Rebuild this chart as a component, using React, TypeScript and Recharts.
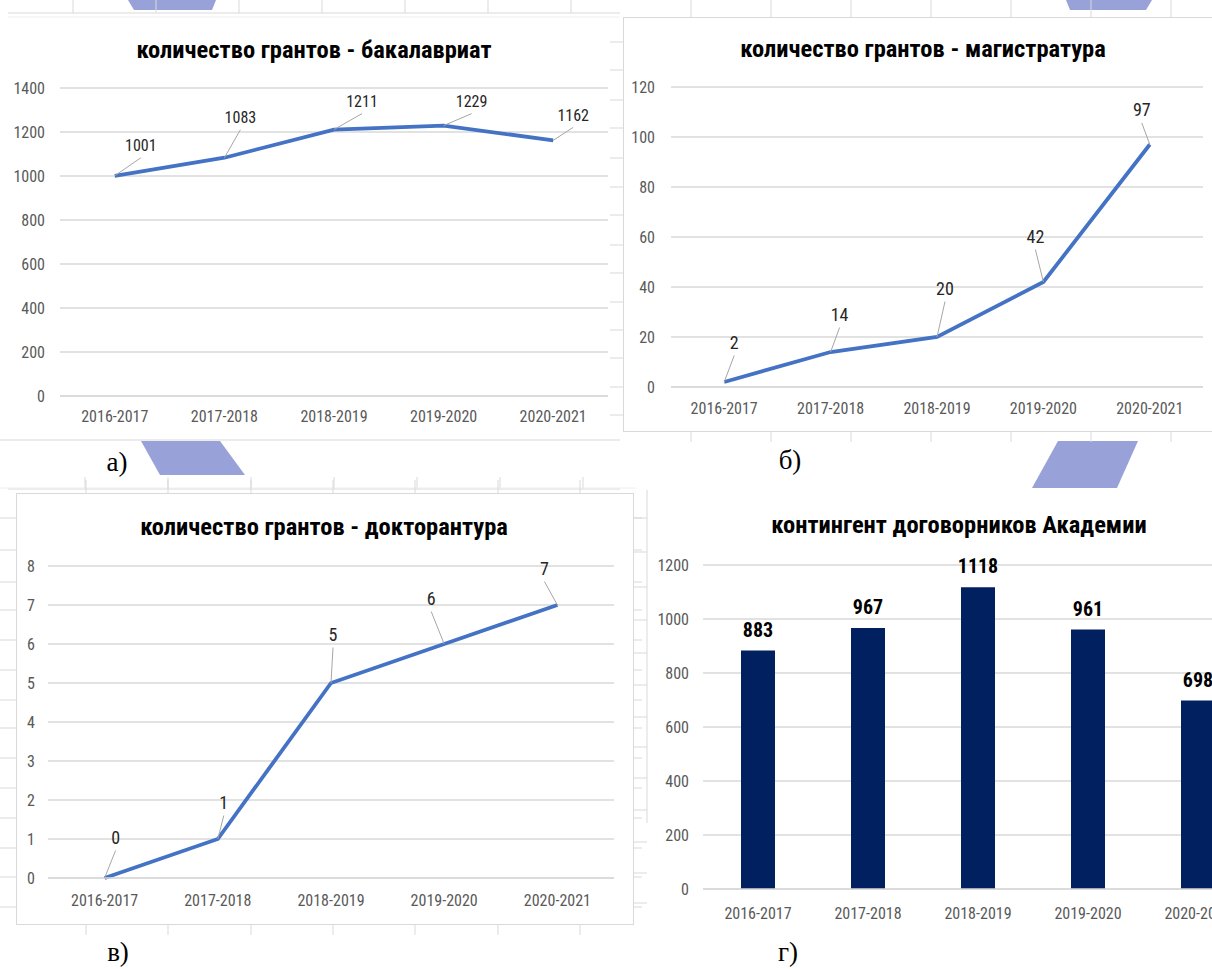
import { LineChart, Line, BarChart, Bar, XAxis, YAxis, CartesianGrid, LabelList } from "recharts"

// academic years on every x axis
const years = ["2016-2017", "2017-2018", "2018-2019", "2019-2020", "2020-2021"]

// а) bachelor grants
const bachelorGrants = [1001, 1083, 1211, 1229, 1162]
const bachelorTicks = [0, 200, 400, 600, 800, 1000, 1200, 1400]

// б) master grants
const masterGrants = [2, 14, 20, 42, 97]
const masterTicks = [0, 20, 40, 60, 80, 100, 120]

// в) doctoral grants
const doctoralGrants = [0, 1, 5, 6, 7]
const doctoralTicks = [0, 1, 2, 3, 4, 5, 6, 7, 8]

// г) contract students
const contractStudents = [883, 967, 1118, 961, 698]
const contractTicks = [0, 200, 400, 600, 800, 1000, 1200]

// where Excel dragged each data label (dx, dy from the point)
const bachelorLabelShift = [[26, -30], [16, -40], [28, -28], [28, -24], [20, -25]]
const masterLabelShift = [[10, -40], [9, -38], [8, -49], [-8, -46], [-8, -35]]
const doctoralLabelShift = [[11, -41], [6, -37], [2, -49], [-13, -46], [-13, -37]]

const FONT = '"Liberation Sans Narrow", "Roboto Condensed", Roboto, sans-serif'
const GRID = "#d9d9d9"
const TICK = { fill: "#595959", fontSize: 16, fontFamily: FONT }

function leaderLabel(shifts: number[][], fontSize: number) {
  return (props: any) => {
    const { x, y, value, index } = props
    const [dx, dy] = shifts[index] || [0, -30]
    const lx = x + dx
    const ly = y + dy
    return (
      <g>
        <line x1={x} y1={y} x2={lx} y2={ly + fontSize * 0.75} stroke="#a6a6a6" strokeWidth={1} />
        <text x={lx} y={ly} textAnchor="middle" dominantBaseline="central" fontSize={fontSize} fill="#262626" fontFamily={FONT}>
          {value}
        </text>
      </g>
    )
  }
}

interface GrantChartProps {
  left: number
  top: number
  width: number
  height: number
  values: number[]
  ticks: number[]
  margin: { top: number; right: number; left: number; bottom: number }
  yWidth: number
  yGap: number
  xGap: number
  shifts: number[][]
  labelSize: number
}

function GrantChart(p: GrantChartProps) {
  const data = years.map((year, i) => ({ year, value: p.values[i] }))
  const plotWidth = p.width - p.margin.left - p.margin.right - p.yWidth
  const pad = plotWidth / 10
  return (
    <div style={{ position: "absolute", left: p.left, top: p.top, width: p.width, height: p.height }}>
      <LineChart width={p.width} height={p.height} data={data} margin={p.margin}>
        <CartesianGrid vertical={false} stroke={GRID} strokeWidth={1.5} />
        <XAxis
          dataKey="year"
          interval={0}
          padding={{ left: pad, right: pad }}
          axisLine={{ stroke: GRID, strokeWidth: 1.5 }}
          tickLine={false}
          tickSize={0}
          tickMargin={p.xGap}
          height={30}
          tick={TICK}
        />
        <YAxis
          domain={[0, p.ticks[p.ticks.length - 1]]}
          ticks={p.ticks}
          interval={0}
          width={p.yWidth}
          axisLine={false}
          tickLine={false}
          tickSize={0}
          tickMargin={p.yGap}
          tick={TICK}
        />
        <Line dataKey="value" stroke="#4472c4" strokeWidth={3.8} dot={false} isAnimationActive={false}>
          <LabelList dataKey="value" content={leaderLabel(p.shifts, p.labelSize)} />
        </Line>
      </LineChart>
    </div>
  )
}

function Title({ x, y, text }: { x: number; y: number; text: string }) {
  return (
    <div
      style={{
        position: "absolute",
        left: x - 300,
        top: y - 16,
        width: 600,
        height: 32,
        lineHeight: "32px",
        textAlign: "center",
        fontFamily: FONT,
        fontWeight: "bold",
        fontSize: 24.5,
        color: "#000",
      }}
    >
      {text}
    </div>
  )
}

function Caption({ x, y, text }: { x: number; y: number; text: string }) {
  return (
    <div
      style={{
        position: "absolute",
        left: x - 30,
        top: y - 15,
        width: 60,
        height: 30,
        lineHeight: "30px",
        textAlign: "center",
        fontFamily: '"Liberation Serif", "Times New Roman", serif',
        fontSize: 27,
        color: "#000",
      }}
    >
      {text}
    </div>
  )
}

// faint spreadsheet cell lines and the blue slide shapes behind the charts
function Backdrop() {
  const colsA = [73, 156, 239, 322, 405, 488, 571]
  const colsB = [691, 771, 851, 931, 1011, 1091, 1171]
  const colsC = [86, 168, 251, 333, 415, 498, 580]
  const rowsB = [42, 70, 100, 128, 158, 187, 215, 245, 273, 302, 330, 358, 387, 415]
  const rowsC = [518, 550, 582, 610, 640, 670, 700, 728, 758, 788, 818, 848, 877, 907]
  const rowsD = [518, 552, 587, 620, 653, 685, 717, 747, 778, 810, 842, 873, 903]
  const c = "#d9d9d9"
  return (
    <svg width={1212} height={969} style={{ position: "absolute", left: 0, top: 0 }}>
      <polygon points="128,0 216,0 212,10 134,10" fill="#98a2d8" />
      <polygon points="141,441 220,441 245,475 160,475" fill="#98a2d8" />
      <polygon points="1066,0 1152,0 1146,10 1070,10" fill="#98a2d8" />
      <polygon points="1058,441 1138,441 1117,488 1032,488" fill="#98a2d8" />
      <line x1={8} y1={13} x2={620} y2={13} stroke={c} />
      <line x1={8} y1={17} x2={620} y2={17} stroke="#eeeeee" />
      {colsA.map((x) => <line key={"ta" + x} x1={x} y1={0} x2={x} y2={13} stroke={c} />)}
      <line x1={0} y1={440} x2={620} y2={440} stroke={c} />
      <line x1={8} y1={489} x2={620} y2={489} stroke={c} />
      {colsA.map((x) => <line key={"ba" + x} x1={x + 12} y1={477} x2={x + 12} y2={489} stroke={c} />)}
      <rect x={623.5} y={17.5} width={600} height={414} fill="#fff" stroke={c} />
      {colsB.map((x) => <line key={"tb" + x} x1={x} y1={0} x2={x} y2={17} stroke={c} />)}
      {colsB.map((x) => <line key={"bb" + x} x1={x} y1={432} x2={x} y2={442} stroke={c} />)}
      {rowsB.map((y) => <line key={"lb" + y} x1={610} y1={y} x2={623} y2={y} stroke={c} />)}
      <line x1={0} y1={488} x2={636} y2={488} stroke="#eeeeee" />
      <rect x={16.5} y={493.5} width={617} height={431} fill="#fff" stroke={c} />
      {colsC.map((x) => <line key={"tc" + x} x1={x} y1={480} x2={x} y2={493} stroke={c} />)}
      {colsC.map((x) => <line key={"bc" + x} x1={x} y1={924} x2={x} y2={935} stroke={c} />)}
      {rowsC.map((y) => <line key={"lc" + y} x1={0} y1={y} x2={16} y2={y} stroke={c} />)}
      {rowsC.map((y) => <line key={"rc" + y} x1={634} y1={y} x2={642} y2={y} stroke={c} />)}
      <line x1={647} y1={490} x2={647} y2={823} stroke={c} />
      {rowsD.map((y) => <line key={"ld" + y} x1={634} y1={y} x2={647} y2={y} stroke={c} />)}
    </svg>
  )
}

export default function App() {
  const contractData = years.map((year, i) => ({ year, value: contractStudents[i] }))
  return (
    <div style={{ position: "absolute", left: 0, top: 0, width: 1212, height: 969, overflow: "hidden", background: "#fff" }}>
      <Backdrop />

      <Title x={314} y={50} text="количество грантов - бакалавриат" />
      <GrantChart
        left={0}
        top={70}
        width={620}
        height={370}
        values={bachelorGrants}
        ticks={bachelorTicks}
        margin={{ top: 18, right: 12, left: 10, bottom: 14 }}
        yWidth={50}
        yGap={15}
        xGap={15}
        shifts={bachelorLabelShift}
        labelSize={16}
      />
      <Caption x={117} y={462} text="а)" />

      <Title x={923} y={49} text="количество грантов - магистратура" />
      <GrantChart
        left={623}
        top={17}
        width={600}
        height={415}
        values={masterGrants}
        ticks={masterTicks}
        margin={{ top: 70, right: 20, left: 3, bottom: 15 }}
        yWidth={45}
        yGap={16}
        xGap={16}
        shifts={masterLabelShift}
        labelSize={18}
      />
      <Caption x={790} y={460} text="б)" />

      <Title x={324} y={527} text="количество грантов - докторантура" />
      <GrantChart
        left={16}
        top={493}
        width={617}
        height={431}
        values={doctoralGrants}
        ticks={doctoralTicks}
        margin={{ top: 73, right: 19, left: 0, bottom: 16 }}
        yWidth={32}
        yGap={13}
        xGap={17}
        shifts={doctoralLabelShift}
        labelSize={18}
      />
      <Caption x={118} y={952} text="в)" />

      <Title x={959} y={525} text="контингент договорников Академии" />
      <div style={{ position: "absolute", left: 640, top: 545, width: 623, height: 380 }}>
        <BarChart width={623} height={380} data={contractData} margin={{ top: 20, right: 10, left: 10, bottom: 6 }}>
          <CartesianGrid vertical={false} stroke={GRID} strokeWidth={1.5} />
          <XAxis
            dataKey="year"
            interval={0}
            axisLine={{ stroke: GRID, strokeWidth: 1.5 }}
            tickLine={false}
            tickSize={0}
            tickMargin={19}
            height={30}
            tick={TICK}
          />
          <YAxis
            domain={[0, 1200]}
            ticks={contractTicks}
            interval={0}
            width={53}
            axisLine={false}
            tickLine={false}
            tickSize={0}
            tickMargin={14}
            tick={TICK}
          />
          <Bar dataKey="value" fill="#002060" barSize={34} isAnimationActive={false}>
            <LabelList
              dataKey="value"
              position="top"
              offset={14}
              style={{ fill: "#000", fontSize: 20, fontWeight: "bold", fontFamily: FONT }}
            />
          </Bar>
        </BarChart>
      </div>
      <Caption x={788} y={952} text="г)" />
    </div>
  )
}
